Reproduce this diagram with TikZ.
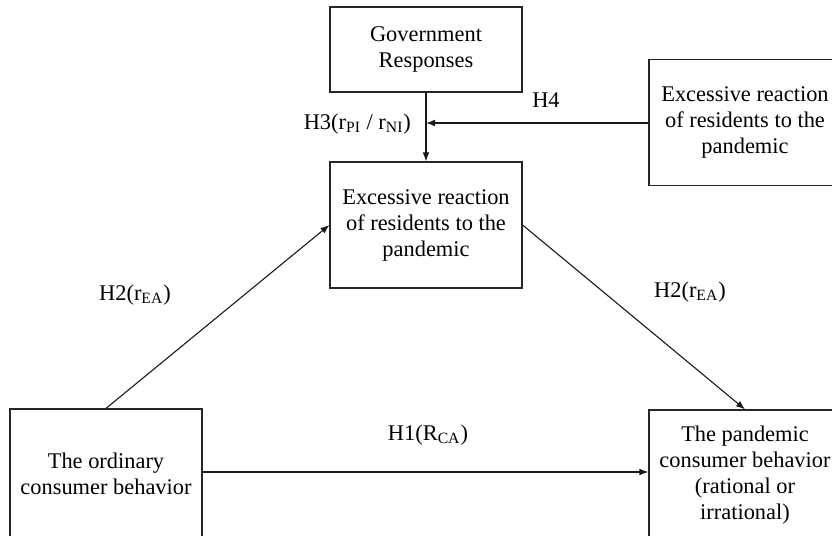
\documentclass[tikz,border=0pt]{standalone}
\usepackage{fontspec}
\setmainfont{Liberation Serif}
\usetikzlibrary{arrows.meta}
\tikzset{
  factor/.style={draw=black!85, line width=0.6pt, rectangle, align=center,
    minimum width=96pt, minimum height=63pt, inner sep=2pt,
    font=\fontsize{11.2}{13}\selectfont},
  link/.style={-{Latex[length=4.5pt,width=3.4pt]}, line width=0.55pt, black!90},
  hyp/.style={font=\fontsize{11.2}{13}\selectfont}
}

\begin{document}
\begin{tikzpicture}[x=0.5pt,y=-0.5pt]

    \useasboundingbox (0,0) rectangle (832,536);

    % Factors
    \node[factor, minimum height=42.5pt] (gov) at (426,49.5) {Government\\Responses};
    \node[factor] (exc) at (426,225) {Excessive reaction\\of residents to the\\pandemic};
    \node[factor] (exr) at (745,122.5) {Excessive reaction\\of residents to the\\pandemic};
    \node[factor, minimum height=65pt] (ord) at (106,474) {The ordinary\\consumer behavior};
    \node[factor, minimum height=65pt] (pan) at (745,475) {The pandemic\\consumer behavior\\(rational or\\irrational)};

    \coordinate (mod) at (426,123);

    % Hypotheses
    \draw[link] (gov) -- (exc);
    \draw[link] (exr.west |- mod) -- (mod);
    \draw[link] (ord.north) -- (exc.west);
    \draw[link] (exc.east) -- (pan.north);
    \draw[link] (ord.east |- 0,472) -- (pan.west |- 0,472);

    \node[hyp] (h4) at (546,100) {H4};
    \node[hyp, anchor=east] (h3) at (418,124) {H3(r\textsubscript{PI} / r\textsubscript{NI})};
    \node[hyp] (h2a) at (135,295) {H2(r\textsubscript{EA})};
    \node[hyp] (h2b) at (690,292) {H2(r\textsubscript{EA})};
    \node[hyp] (h1) at (428,435) {H1(R\textsubscript{CA})};

\end{tikzpicture}
\end{document}
